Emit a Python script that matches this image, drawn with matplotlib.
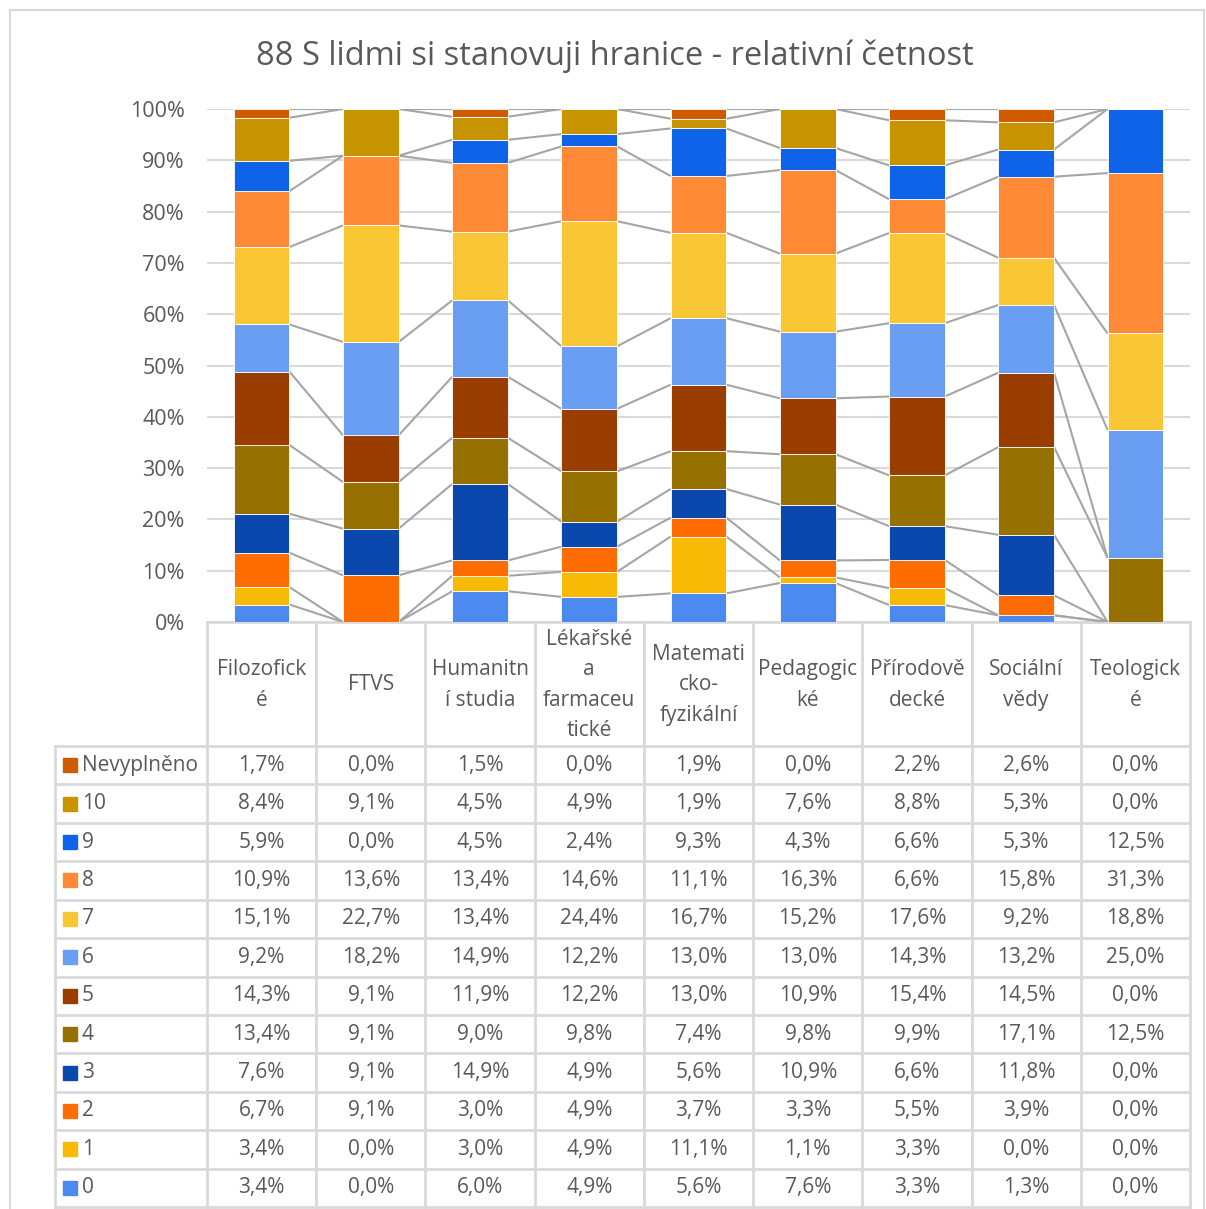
import numpy as np
import matplotlib.pyplot as plt
from matplotlib.patches import Rectangle

plt.rcParams['font.family'] = ['Open Sans', 'DejaVu Sans']

# Fakulty (kategorie) - jak jsou zalomené v záhlaví tabulky
categories = ['Filozofick\né', 'FTVS', 'Humanitn\ní studia', 'Lékařské\na\nfarmaceu\ntické',
              'Matemati\ncko-\nfyzikální', 'Pedagogic\nké', 'Přírodově\ndecké',
              'Sociální\nvědy', 'Teologick\né']

# Relativní četnosti v % (pořadí sloupců odpovídá categories)
v0 = [3.4, 0.0, 6.0, 4.9, 5.6, 7.6, 3.3, 1.3, 0.0]
v1 = [3.4, 0.0, 3.0, 4.9, 11.1, 1.1, 3.3, 0.0, 0.0]
v2 = [6.7, 9.1, 3.0, 4.9, 3.7, 3.3, 5.5, 3.9, 0.0]
v3 = [7.6, 9.1, 14.9, 4.9, 5.6, 10.9, 6.6, 11.8, 0.0]
v4 = [13.4, 9.1, 9.0, 9.8, 7.4, 9.8, 9.9, 17.1, 12.5]
v5 = [14.3, 9.1, 11.9, 12.2, 13.0, 10.9, 15.4, 14.5, 0.0]
v6 = [9.2, 18.2, 14.9, 12.2, 13.0, 13.0, 14.3, 13.2, 25.0]
v7 = [15.1, 22.7, 13.4, 24.4, 16.7, 15.2, 17.6, 9.2, 18.8]
v8 = [10.9, 13.6, 13.4, 14.6, 11.1, 16.3, 6.6, 15.8, 31.3]
v9 = [5.9, 0.0, 4.5, 2.4, 9.3, 4.3, 6.6, 5.3, 12.5]
v10 = [8.4, 9.1, 4.5, 4.9, 1.9, 7.6, 8.8, 5.3, 0.0]
nevyplneno = [1.7, 0.0, 1.5, 0.0, 1.9, 0.0, 2.2, 2.6, 0.0]

series_names = ['0', '1', '2', '3', '4', '5', '6', '7', '8', '9', '10', 'Nevyplněno']
series = [v0, v1, v2, v3, v4, v5, v6, v7, v8, v9, v10, nevyplneno]
colors = ['#4C8AF2', '#F9BA05', '#FF6D01', '#0B48AE', '#967000', '#9A3D00',
          '#6A9EF2', '#F9C636', '#FF8A35', '#0F63E8', '#C79400', '#CF5A00']

W, H = 1206, 1209
TXT = '#595959'
GRID = '#D9D9D9'
FS = 15

fig = plt.figure(figsize=(W / 100, H / 100), dpi=100)

# okraj grafu
fig.patches.append(Rectangle((10 / W, -0.01), 1194 / W, 1 - 10 / H + 0.01,
                             transform=fig.transFigure, fill=False,
                             edgecolor=GRID, lw=1.5))

fig.text(615 / W, 1 - 56 / H, '88 S lidmi si stanovuji hranice - relativní četnost',
         ha='center', va='center', fontsize=23.5, color=TXT)

# hlavní graf (100% skládané sloupce)
ax_l, ax_r, ax_t, ax_b = 207, 1190, 109, 622
ax = fig.add_axes([ax_l / W, 1 - ax_b / H, (ax_r - ax_l) / W, (ax_b - ax_t) / H])

data = np.array(series)
data = data / data.sum(axis=0) * 100
x = np.arange(len(categories))
bw = 0.51
bottom = np.zeros(len(categories))
for vals, col in zip(data, colors):
    ax.bar(x, vals, bw, bottom=bottom, color=col, edgecolor='#FFFFFF', lw=0.6, zorder=3)
    top = bottom + vals
    # spojnice řad
    for i in range(len(x) - 1):
        ax.plot([x[i] + bw / 2, x[i + 1] - bw / 2], [top[i], top[i + 1]],
                color='#A5A5A5', lw=1.5, zorder=2, solid_capstyle='butt')
    bottom = top

ax.set_xlim(-0.5, len(categories) - 0.5)
ax.set_ylim(0, 100)
ax.set_yticks(np.arange(0, 101, 10))
ax.set_yticklabels([f'{t}%' for t in range(0, 101, 10)])
ax.tick_params(axis='y', length=0, pad=16, labelsize=15.5, labelcolor=TXT)
ax.set_xticks([])
for s in ax.spines.values():
    s.set_visible(False)
ax.yaxis.grid(True, color=GRID, lw=1.5, zorder=0)
ax.set_axisbelow(True)

# datová tabulka pod grafem
tab = fig.add_axes([0, 0, 1, 1], zorder=-1)
tab.set_xlim(0, W)
tab.set_ylim(H, 0)
tab.axis('off')

col_edges = np.linspace(ax_l, ax_r, len(categories) + 1)
head_bot = 746
row_h = (1207 - head_bot) / len(series)
legend_l = 55

tab.plot([ax_l, ax_r], [ax_b, ax_b], color=GRID, lw=2)
for ce in col_edges:
    tab.plot([ce, ce], [ax_b, 1207], color=GRID, lw=2)
tab.plot([legend_l, legend_l], [head_bot, 1207], color=GRID, lw=2)
for r in range(len(series) + 1):
    yy = head_bot + r * row_h
    tab.plot([legend_l, ax_r], [yy, yy], color=GRID, lw=2)

for i, cat in enumerate(categories):
    cx = (col_edges[i] + col_edges[i + 1]) / 2
    tab.text(cx, (ax_b + head_bot) / 2 + 1, cat, ha='center', va='center',
             fontsize=FS, color=TXT, linespacing=1.6)

for r, idx in enumerate(range(len(series) - 1, -1, -1)):
    cy = head_bot + (r + 0.5) * row_h
    tab.add_patch(Rectangle((63, cy - 7), 14, 14, color=colors[idx]))
    tab.text(82, cy, series_names[idx], ha='left', va='center', fontsize=FS, color=TXT)
    for i, v in enumerate(series[idx]):
        cx = (col_edges[i] + col_edges[i + 1]) / 2
        tab.text(cx, cy, f'{v:.1f}'.replace('.', ',') + '%', ha='center', va='center',
                 fontsize=FS, color=TXT)

fig.savefig('out.png', dpi=100)
